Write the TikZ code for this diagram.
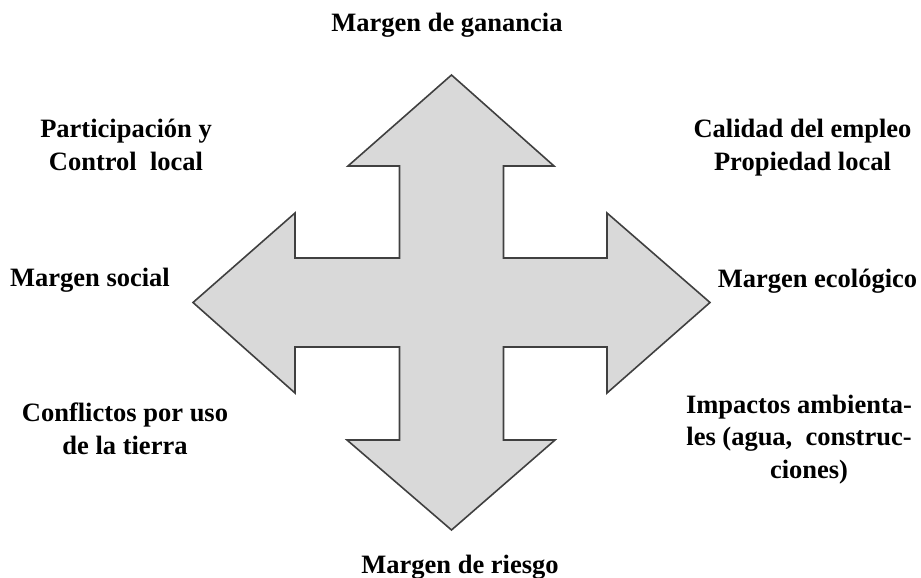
\documentclass[tikz,border=0pt]{standalone}
\usepackage{fontspec}
\setmainfont{Liberation Serif}
\begin{document}
\begin{tikzpicture}[x=1pt,y=-1pt,
  lbl/.style={font=\fontsize{26.5}{32.5}\selectfont\bfseries, inner sep=0pt, anchor=base, align=center},
  crossarrow/.style={fill=black!15, draw=black!75, line width=1.6pt, line join=miter}]
\useasboundingbox (0,0) rectangle (921,578);
\draw[crossarrow] (451.5,75) -- (554,166) -- (503.5,166) -- (503.5,258) -- (607,258) -- (607,213)
  -- (710,302.5) -- (607,393) -- (607,347) -- (503.5,347) -- (503.5,440) -- (555,440)
  -- (451.5,530) -- (347,440) -- (399.5,440) -- (399.5,347) -- (295,347) -- (295,393)
  -- (193,302.5) -- (295,213) -- (295,258) -- (399.5,258) -- (399.5,166) -- (348,166) -- cycle;
\node[lbl] (ganancia) at (447,31.7) {Margen de ganancia};
\node[lbl] (riesgo) at (460,573) {Margen de riesgo};
\node[lbl] (social) at (90,286.7) {Margen social};
\node[lbl] (ecologico) at (817.5,287) {Margen ecológico};
\node[lbl] (particip) at (126,170) {Participación y\\Control\ \ local};
\node[lbl] (calidad) at (802.5,170) {Calidad del empleo\\Propiedad local};
\node[lbl] (conflictos) at (125,454) {Conflictos por uso\\de la tierra};
\node[lbl] (impactos) at (799,478) {Impactos ambienta-\\les (agua,\ \ construc-\\\hspace*{20pt}ciones)};
\end{tikzpicture}
\end{document}
